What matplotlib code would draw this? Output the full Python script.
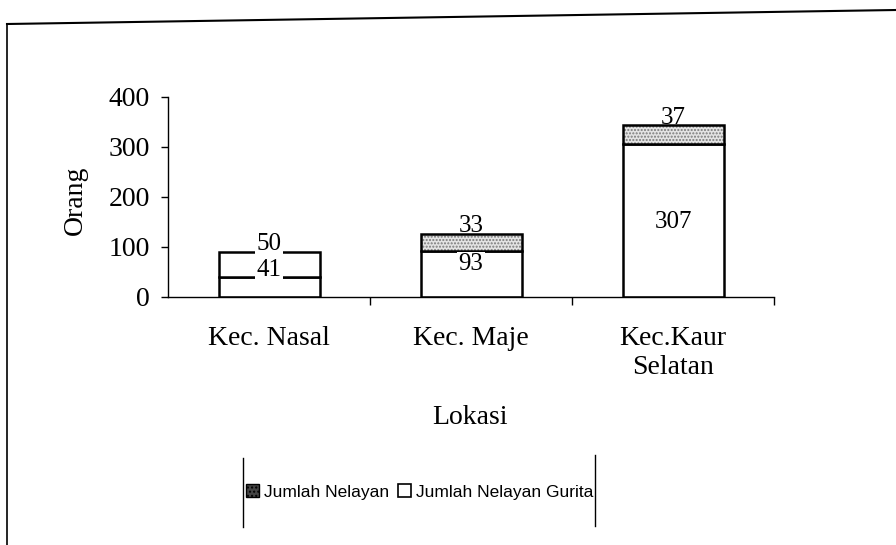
import matplotlib
matplotlib.use('Agg')
import matplotlib.pyplot as plt
from matplotlib.patches import Patch
from matplotlib.lines import Line2D
import numpy as np

# Data
lokasi = ['Kec. Nasal', 'Kec. Maje', 'Kec.Kaur\nSelatan']
nelayan_gurita = [41, 93, 307]   # bottom, white
nelayan = [50, 33, 37]           # top, dotted
shaded = [False, True, True]     # Nasal top segment prints without dots

# where the bottom-segment numbers sit (layout only)
gurita_label_y = [54, 66, 150]

serif = 'Liberation Serif'
sans = 'Liberation Sans'

fig = plt.figure(figsize=(8.96, 5.45), dpi=100)
W, H = 896, 545

def fx(px):
    return px / W

def fy(py):
    return 1 - py / H

ax = fig.add_axes([fx(168), fy(297), fx(774) - fx(168), fy(97) - fy(297)])

x = np.arange(len(lokasi))
total = np.array(nelayan_gurita) + np.array(nelayan)

# bottom (white) segments
ax.bar(x, nelayan_gurita, width=0.5, color='white', edgecolor='black', linewidth=1.8, zorder=2)

# top segments: dotted fill first, then black outline
for i in range(len(x)):
    if shaded[i]:
        ax.bar(x[i], nelayan[i], bottom=nelayan_gurita[i], width=0.5, color='#e4e4e4',
               edgecolor='#7a7a7a', hatch='.....', linewidth=0, zorder=2)
    else:
        ax.bar(x[i], nelayan[i], bottom=nelayan_gurita[i], width=0.5, color='white',
               linewidth=0, zorder=2)
ax.bar(x, nelayan, bottom=nelayan_gurita, width=0.5, fill=False, edgecolor='black',
       linewidth=1.8, zorder=3)

# value labels
white_box = dict(facecolor='white', edgecolor='none', pad=1.0)
for i in range(len(x)):
    ax.text(x[i], total[i] + 15, str(nelayan[i]), ha='center', va='center',
            family=serif, fontsize=18, zorder=4,
            bbox=None if shaded[i] else white_box)
    ax.text(x[i], gurita_label_y[i], str(nelayan_gurita[i]), ha='center', va='center',
            family=serif, fontsize=18, zorder=4, bbox=white_box)

ax.set_xlim(-0.5, 2.5)
ax.set_ylim(0, 400)
ax.set_yticks([0, 100, 200, 300, 400])
ax.set_xticks([0.5, 1.5, 2.5])
ax.set_xticklabels([])
ax.set_xticks(x, minor=True)
ax.set_xticklabels(lokasi, minor=True, family=serif, fontsize=20, linespacing=1.2)
ax.tick_params(axis='x', which='minor', length=0, pad=21)
ax.tick_params(axis='x', which='major', direction='out', length=6, width=1)
ax.tick_params(axis='y', direction='out', length=5, width=1, pad=8)
for lab in ax.get_yticklabels():
    lab.set_family(serif)
    lab.set_fontsize(20)

for s in ['top', 'right']:
    ax.spines[s].set_visible(False)
ax.spines['left'].set_linewidth(1)
ax.spines['bottom'].set_linewidth(1)

fig.text(fx(75), fy(200), 'Orang', rotation=90, ha='center', va='center',
         family=serif, fontsize=20)
fig.text(fx(470), fy(418), 'Lokasi', ha='center', va='center',
         family=serif, fontsize=20)

# legend
handles = [Patch(facecolor='#444444', edgecolor='black', hatch='....', linewidth=1),
           Patch(facecolor='white', edgecolor='black', linewidth=1.2)]
fig.legend(handles, ['Jumlah Nelayan', 'Jumlah Nelayan Gurita'], ncol=2, frameon=False,
           loc='center', bbox_to_anchor=(fx(420), fy(492)), prop={'family': sans, 'size': 12.5},
           handlelength=0.75, handleheight=0.75, handletextpad=0.3, columnspacing=0.5)

# legend side bars and the outer frame of the scanned chart
fig.add_artist(Line2D([fx(243), fx(243)], [fy(458), fy(527)], color='black', lw=1))
fig.add_artist(Line2D([fx(595), fx(595)], [fy(455), fy(526)], color='black', lw=1))
fig.add_artist(Line2D([fx(7), fx(7)], [fy(24), 0], color='black', lw=1.2))
fig.add_artist(Line2D([fx(7), 1], [fy(24), fy(10)], color='black', lw=1.5))

fig.savefig('out.png', dpi=100)
